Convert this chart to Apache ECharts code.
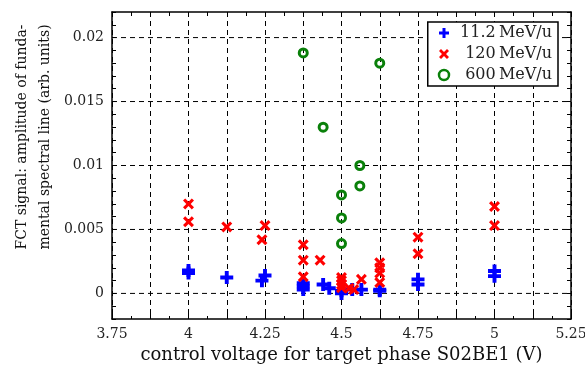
<!DOCTYPE html>
<html>
<head>
<meta charset="utf-8">
<script src="https://cdn.jsdelivr.net/npm/echarts@6/dist/echarts.min.js"></script>
<style>
  html, body { margin: 0; padding: 0; background: #fff; }
  #chart { width: 585px; height: 368px; }
</style>
</head>
<body>
<div id="chart"></div>
<script>
// values: [control voltage (V), amplitude]
const blue = [
  [4, 0.0018], [4, 0.0016], [4.125, 0.00125], [4.24, 0.001], [4.25, 0.0014],
  [4.375, 0.0008], [4.375, 0.00055], [4.375, 0.0003], [4.44, 0.0007], [4.46, 0.0004],
  [4.5, 0.0002], [4.5, 0.0], [4.535, 0.0003], [4.565, 0.0003], [4.625, 0.0003],
  [4.625, 0.0002], [4.75, 0.0011], [4.75, 0.0007], [5, 0.00175], [5, 0.00135]
];
const red = [
  [4, 0.0070], [4, 0.0056], [4.125, 0.0052], [4.25, 0.0053], [4.24, 0.0042],
  [4.375, 0.0038], [4.375, 0.0026], [4.375, 0.0013], [4.43, 0.0026],
  [4.5, 0.00125], [4.5, 0.001], [4.5, 0.0007], [4.5, 0.00045], [4.525, 0.0004],
  [4.54, 0.0003], [4.565, 0.0011], [4.625, 0.0024], [4.625, 0.002], [4.625, 0.0016],
  [4.625, 0.00085], [4.75, 0.0044], [4.75, 0.0031], [5, 0.0068], [5, 0.0053]
];
const green = [
  [4.375, 0.0188], [4.44, 0.013], [4.625, 0.018], [4.5, 0.0077], [4.5, 0.0059],
  [4.5, 0.0039], [4.56, 0.01], [4.56, 0.0084]
];
const seriesNames = ['11.2\u2009MeV/u', '120\u2009MeV/u', '600\u2009MeV/u'];
const yGrid = [0, 0.005, 0.01, 0.015, 0.02];
const xRange = [3.75, 5.25];

const font = 'DejaVu Serif';
const plusPath = 'path://M3.5,0H6.5V3.5H10V6.5H6.5V10H3.5V6.5H0V3.5H3.5Z';
const crossPath = 'path://M2,0L5,3L8,0L10,2L7,5L10,8L8,10L5,7L2,10L0,8L3,5L0,2Z';

const isMultiple = (v, step) => Math.abs(v / step - Math.round(v / step)) < 1e-6;
const fmt = v => String(+v.toFixed(4));

const chart = echarts.init(document.getElementById('chart'));
const axisLine = { show: true, onZero: false, lineStyle: { color: '#000', width: 1.5 } };
const dash = { color: '#000', type: [5, 4], width: 1 };

// horizontal dashed grid lines, one short line series per level
const gridSeries = yGrid.map(v => ({
  type: 'line', data: [[xRange[0], v], [xRange[1], v]],
  symbol: 'none', silent: true, z: 1,
  lineStyle: dash
}));

chart.setOption({
  animation: false,
  textStyle: { fontFamily: font },
  grid: { left: 112, right: 14, top: 12, bottom: 49, outerBoundsMode: 'none' },
  legend: {
    orient: 'vertical',
    right: 27,
    top: 22,
    data: [
      { name: seriesNames[0] },
      { name: seriesNames[1] },
      { name: seriesNames[2], itemStyle: { borderWidth: 2.5 } }
    ],
    backgroundColor: '#fff',
    borderColor: '#000',
    borderWidth: 1.5,
    borderRadius: 0,
    padding: [3, 6, 3, 10],
    itemGap: 5,
    itemWidth: 10,
    itemHeight: 10,
    formatter: name => '{a|' + name + '}',
    textStyle: {
      rich: { a: { width: 98, align: 'right', fontSize: 16, fontFamily: font, color: '#222' } }
    }
  },
  xAxis: [{
    type: 'value', min: xRange[0], max: xRange[1], interval: 0.125,
    axisLine: axisLine,
    axisTick: { inside: true, length: 5, lineStyle: { color: '#000' } },
    minorTick: { show: true, splitNumber: 2, length: 3, lineStyle: { color: '#000' } },
    splitLine: { show: true, lineStyle: dash },
    axisLabel: {
      color: '#222', fontSize: 14, margin: 8,
      formatter: v => isMultiple(v, 0.25) ? fmt(v) : ''
    },
    name: 'control voltage for target phase S02BE1 (V)',
    nameLocation: 'middle', nameGap: 25,
    nameTextStyle: { fontSize: 18, color: '#111' }
  }, {
    type: 'value', position: 'top', min: xRange[0], max: xRange[1], interval: 0.125,
    axisLine: axisLine,
    axisTick: { inside: true, length: 4, lineStyle: { color: '#000' } },
    minorTick: { show: true, splitNumber: 2, length: 4, lineStyle: { color: '#000' } },
    splitLine: { show: false }, axisLabel: { show: false }
  }],
  yAxis: [{
    type: 'value', min: -0.002, max: 0.022, interval: 0.001,
    axisLine: axisLine,
    axisTick: { inside: true, length: 4, lineStyle: { color: '#000' } },
    splitLine: { show: false },
    axisLabel: {
      color: '#222', fontSize: 14, margin: 8,
      formatter: v => isMultiple(v, 0.005) ? fmt(v) : ''
    }
  }, {
    type: 'value', position: 'right', min: -0.002, max: 0.022, interval: 0.001,
    axisLine: axisLine,
    axisTick: { inside: true, length: 4, lineStyle: { color: '#000' } },
    splitLine: { show: false }, axisLabel: { show: false }
  }],
  graphic: [{
    type: 'text',
    x: 34, y: 137, rotation: Math.PI / 2,
    style: {
      text: 'FCT signal: amplitude of funda-\nmental spectral line (arb. units)',
      font: '14px "DejaVu Serif"', fill: '#111',
      align: 'center', verticalAlign: 'middle', lineHeight: 23
    }
  }],
  series: gridSeries.concat([{
    name: seriesNames[0], type: 'scatter', data: blue,
    symbol: plusPath, symbolSize: 13,
    itemStyle: { color: '#0000ff', opacity: 1 }
  }, {
    name: seriesNames[1], type: 'scatter', data: red,
    symbol: crossPath, symbolSize: 11,
    itemStyle: { color: '#ff0000', opacity: 1 }
  }, {
    name: seriesNames[2], type: 'scatter', data: green,
    symbol: 'circle', symbolSize: 8,
    itemStyle: { color: 'rgba(255,255,255,0)', borderColor: '#0a800a', borderWidth: 3, opacity: 1 }
  }])
});
</script>
</body>
</html>
